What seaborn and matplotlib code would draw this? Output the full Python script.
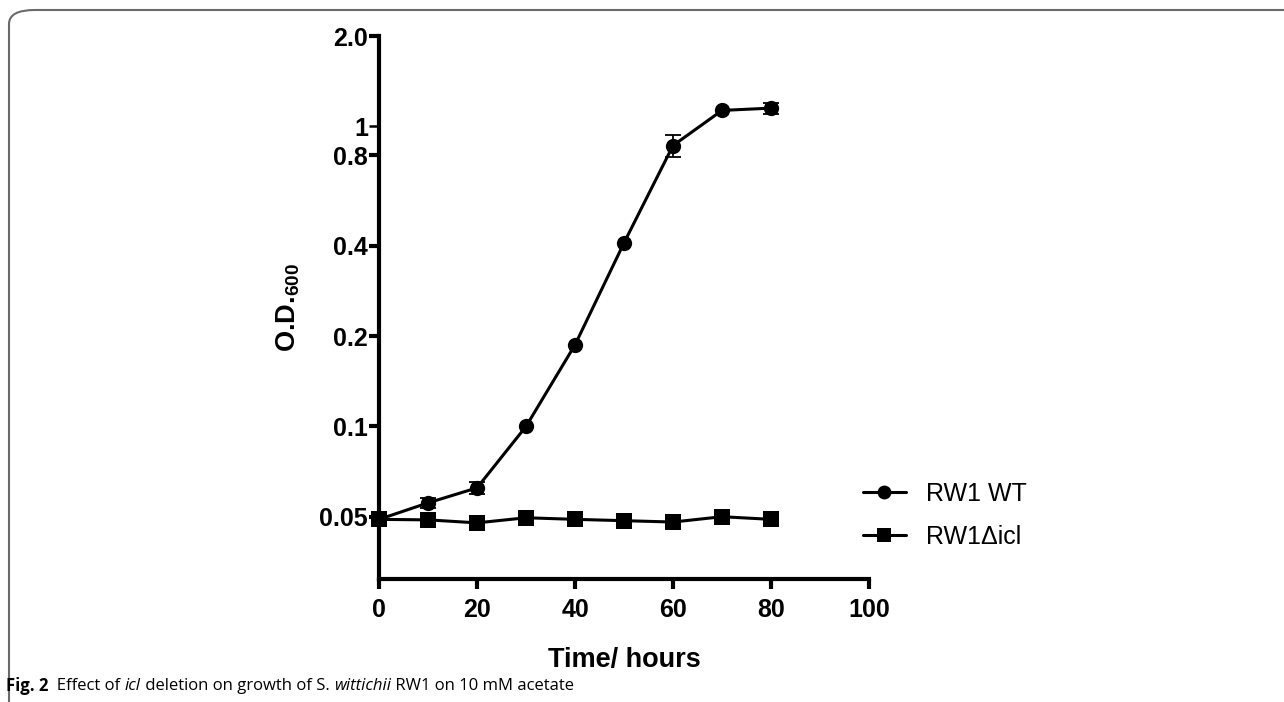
#!/usr/bin/env python3
"""
Growth curve of S. wittichii RW1 WT vs RW1 delta-icl on 10 mM acetate (log O.D.600)
"""

import numpy as np
import pandas as pd
import matplotlib
matplotlib.use("Agg")
import matplotlib.pyplot as plt
from matplotlib.patches import FancyBboxPatch
import seaborn as sns

# data
time_h = [0, 10, 20, 30, 40, 50, 60, 70, 80]
wt_od = [0.049, 0.0556, 0.0624, 0.100, 0.187, 0.409, 0.863, 1.13, 1.15]
wt_err = [0.0, 0.002, 0.003, 0.0, 0.0, 0.0, 0.07, 0.0, 0.05]
icl_od = [0.049, 0.0488, 0.0477, 0.0496, 0.049, 0.0485, 0.048, 0.050, 0.049]
icl_err = [0.0, 0.0, 0.0, 0.0, 0.0, 0.0, 0.0, 0.0, 0.0]
series_names = ["RW1 WT", "RW1\u0394icl"]

y_ticks = [0.05, 0.1, 0.2, 0.4, 0.8, 2.0]
y_tick_labels = ["0.05", "0.1", "0.2", "0.4", "0.8", "2.0"]
x_ticks = [0, 20, 40, 60, 80, 100]

df = pd.DataFrame({
    "time": time_h * 2,
    "od": wt_od + icl_od,
    "err": wt_err + icl_err,
    "strain": [series_names[0]] * len(time_h) + [series_names[1]] * len(time_h),
})

sns.set_style("ticks", rc={"axes.edgecolor": "black", "text.color": "black",
                           "axes.labelcolor": "black", "xtick.color": "black",
                           "ytick.color": "black"})
plt.rcParams["font.family"] = ["Liberation Sans", "DejaVu Sans"]
plt.rcParams["mathtext.default"] = "regular"

fig = plt.figure(figsize=(12.84, 7.02), dpi=100)
ax = fig.add_axes([0.2952, 0.1752, 0.3816, 0.7735])

sns.lineplot(data=df, x="time", y="od", hue="strain", style="strain",
             palette=["black", "black"], markers={series_names[0]: "o", series_names[1]: "s"},
             dashes=False, markersize=11, linewidth=2.2, markeredgewidth=0,
             ax=ax, legend=True, clip_on=False)

# error bars (SEM) for WT
for name, sub in df.groupby("strain"):
    sub = sub[sub["err"] > 0]
    if len(sub):
        ax.errorbar(sub["time"], sub["od"], yerr=sub["err"], fmt="none",
                    ecolor="black", elinewidth=1.3, capsize=6, capthick=1.3, zorder=1)

ax.set_yscale("log")
ax.set_ylim(0.031, 2.0)
ax.set_xlim(0, 100)
ax.set_yticks(y_ticks)
ax.set_yticklabels(y_tick_labels)
ax.set_yticks([1.0], labels=["1"], minor=True)
ax.set_xticks(x_ticks)

for side in ["top", "right"]:
    ax.spines[side].set_visible(False)
for side in ["left", "bottom"]:
    ax.spines[side].set_linewidth(3)
ax.tick_params(axis="both", which="major", length=7, width=3, direction="out",
               labelsize=18, pad=1)
ax.tick_params(axis="y", which="minor", length=7, width=1.8, labelsize=18, pad=1)
for lab in ax.get_xticklabels() + ax.get_yticklabels() + ax.get_yticklabels(minor=True):
    lab.set_fontweight("bold")
ax.tick_params(axis="x", pad=7)

ax.set_xlabel("Time/ hours", fontsize=19.5, fontweight="bold")
ax.xaxis.set_label_coords(0.5, -0.125)
ax.set_ylabel("O.D.$_{600}$", fontsize=19.5, fontweight="bold")
ax.yaxis.set_label_coords(-0.157, 0.5)

leg = ax.legend(loc="upper left", bbox_to_anchor=(0.942, 0.22), frameon=False,
                fontsize=18, handlelength=1.7, labelspacing=0.75, handletextpad=0.8)
for h in leg.legend_handles:
    h.set_markersize(10)

# caption pieces
caption = [("Fig. 2", "bold", "normal"), ("  Effect of ", "normal", "normal"),
           ("icl", "normal", "italic"), (" deletion on growth of S. ", "normal", "normal"),
           ("wittichii", "normal", "italic"), (" RW1 on 10 mM acetate", "normal", "normal")]
renderer = fig.canvas.get_renderer()
x0 = 6 / 1284
for txt, w, st in caption:
    t = fig.text(x0, 1 - 686 / 702, txt, fontsize=12, fontweight=w, fontstyle=st,
                 family=["Open Sans", "DejaVu Sans"], va="center", ha="left")
    bb = t.get_window_extent(renderer=renderer)
    x0 += bb.width / fig.bbox.width

# rounded page frame
frame = FancyBboxPatch((9 / 1284, -0.1), 1.2, (1 - 10 / 702) + 0.1,
                       boxstyle="round,pad=0,rounding_size=0.02",
                       transform=fig.transFigure, fill=False,
                       edgecolor="#6a6a6a", linewidth=1.5, clip_on=False)
fig.patches.append(frame)

fig.savefig("out.png", dpi=100)
plt.close(fig)
